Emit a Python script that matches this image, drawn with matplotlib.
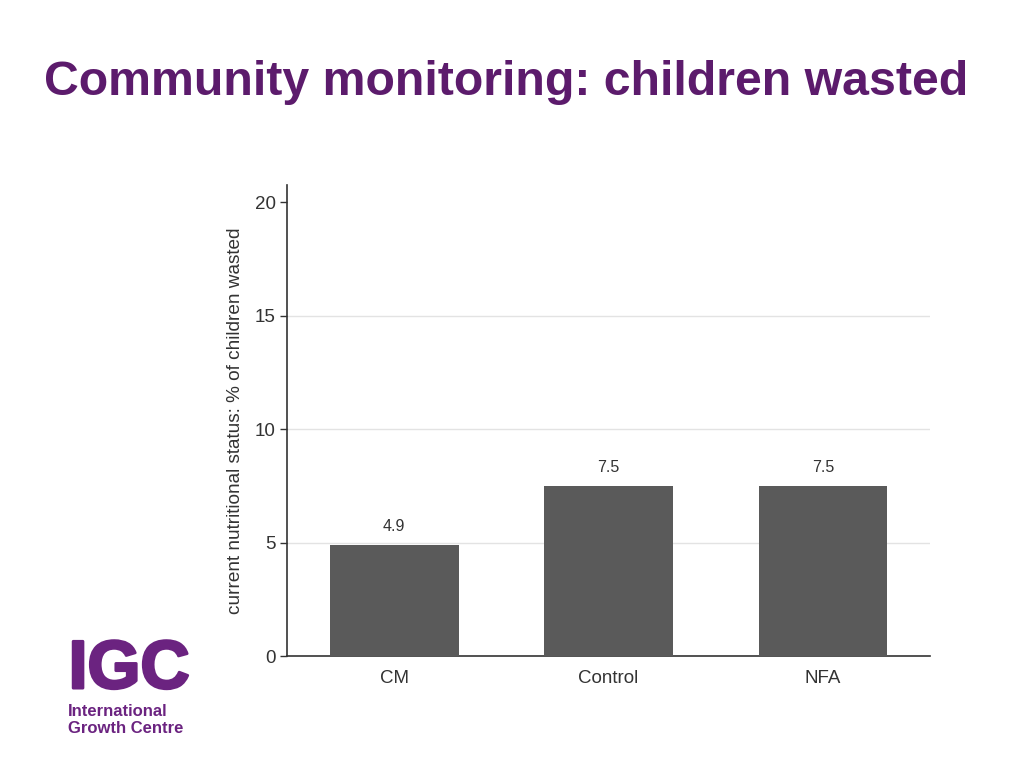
import matplotlib.pyplot as plt
import matplotlib.patheffects as pe

# data
groups = ['CM', 'Control', 'NFA']
wasted = [4.9, 7.5, 7.5]
value_labels = ['4.9', '7.5', '7.5']
yticks = [0, 5, 10, 15, 20]

purple = '#5c1b6c'
plt.rcParams['font.family'] = ['Liberation Sans', 'DejaVu Sans']

fig = plt.figure(figsize=(10.24, 7.68), dpi=100)

# slide title
fig.text(0.043, 0.893, 'Community monitoring: children wasted', fontsize=34.75,
         fontweight='bold', color=purple, ha='left', va='center')

# IGC logo (text version)
fig.text(0.067, 0.104, 'IGC', fontsize=49, fontweight='heavy', color='#6b2380',
         ha='left', va='baseline',
         path_effects=[pe.withStroke(linewidth=2, foreground='#6b2380')])
fig.text(0.066, 0.0677, 'International', fontsize=12, fontweight='bold',
         color='#6b2380', ha='left', va='baseline')
fig.text(0.066, 0.0455, 'Growth Centre', fontsize=12, fontweight='bold',
         color='#6b2380', ha='left', va='baseline')

ax = fig.add_axes([0.2803, 0.1458, 0.628, 0.613])
x = range(len(groups))
bars = ax.bar(x, wasted, width=0.6, color='#5a5a5a', zorder=3)
for b, lab in zip(bars, value_labels):
    ax.text(b.get_x() + b.get_width() / 2, b.get_height() + 0.5, lab,
            ha='center', va='bottom', fontsize=11.5, color='#333333')

for v in yticks[1:-1]:
    ax.axhline(v, color='#e3e3e3', linewidth=1, zorder=1)

ax.set_xlim(-0.5, 2.5)
ax.set_ylim(0, 20.75)
ax.set_xticks(list(x))
ax.set_xticklabels(groups)
ax.set_yticks(yticks)
ax.tick_params(axis='x', length=0, pad=10, labelsize=13.5, labelcolor='#333333')
ax.tick_params(axis='y', length=5, width=1, color='#333333', labelsize=13.5,
               labelcolor='#333333', pad=3)
ax.set_ylabel('current nutritional status: % of children wasted', fontsize=13.7,
              color='#333333', labelpad=8)
for s in ['top', 'right']:
    ax.spines[s].set_visible(False)
for s in ['left', 'bottom']:
    ax.spines[s].set_color('#333333')
    ax.spines[s].set_linewidth(1.2)

fig.savefig('out.png', dpi=100)
